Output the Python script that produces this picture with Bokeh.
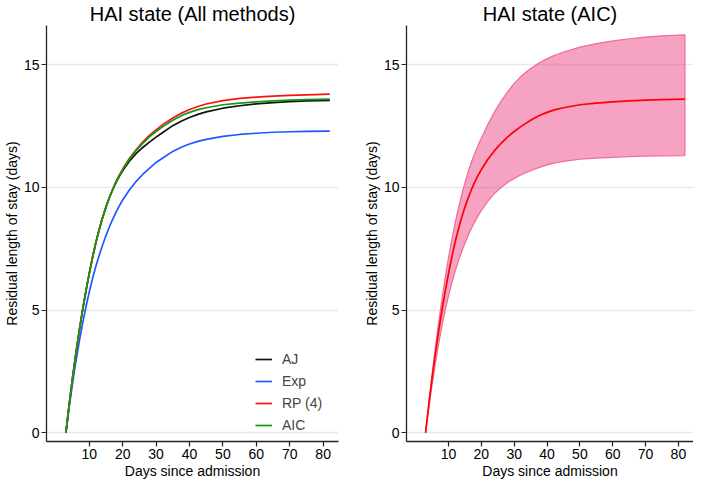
from bokeh.plotting import figure
from bokeh.models import Range1d, Legend, LegendItem
from bokeh.layouts import row
from bokeh.embed import file_html
from bokeh.resources import INLINE

# ---- data ----
days = [3, 4, 5, 6, 7, 8, 9, 10, 11, 12, 13, 14, 15, 16, 17, 18, 19, 20, 22, 24,
        26, 28, 30, 32, 35, 37.5, 40, 42.5, 45, 50, 55, 60, 65, 70, 75, 82]
aj = [0, 1.16, 2.24, 3.24, 4.16, 5.0, 5.78, 6.5, 7.16, 7.77, 8.3, 8.78, 9.2, 9.58,
      9.9, 10.2, 10.45, 10.68, 11.07, 11.38, 11.63, 11.85, 12.05, 12.24, 12.52,
      12.7, 12.85, 12.98, 13.08, 13.23, 13.33, 13.41, 13.46, 13.5, 13.53, 13.55]
exp_ = [0, 1.06, 2.03, 2.91, 3.72, 4.46, 5.13, 5.74, 6.3, 6.8, 7.25, 7.66, 8.04,
        8.39, 8.7, 8.99, 9.25, 9.49, 9.9, 10.24, 10.53, 10.78, 11.02, 11.2, 11.47,
        11.64, 11.77, 11.88, 11.96, 12.08, 12.16, 12.21, 12.25, 12.27, 12.29, 12.3]
rp4 = [0, 1.16, 2.24, 3.24, 4.16, 5.0, 5.78, 6.5, 7.16, 7.77, 8.3, 8.78, 9.2, 9.58,
       9.92, 10.23, 10.5, 10.75, 11.18, 11.54, 11.85, 12.12, 12.35, 12.56, 12.83,
       13.02, 13.18, 13.3, 13.4, 13.54, 13.63, 13.68, 13.72, 13.75, 13.77, 13.8]
aic = [0, 1.16, 2.24, 3.24, 4.16, 5.0, 5.78, 6.5, 7.16, 7.77, 8.3, 8.78, 9.2, 9.58,
       9.92, 10.23, 10.49, 10.73, 11.15, 11.5, 11.8, 12.06, 12.28, 12.48, 12.74,
       12.92, 13.06, 13.17, 13.25, 13.37, 13.44, 13.49, 13.53, 13.56, 13.58, 13.6]
aic_hi = [0, 1.22, 2.4, 3.5, 4.52, 5.47, 6.35, 7.15, 7.88, 8.55, 9.15, 9.7, 10.2,
          10.65, 11.05, 11.4, 11.72, 12.02, 12.58, 13.08, 13.52, 13.9, 14.24, 14.52,
          14.85, 15.07, 15.25, 15.4, 15.52, 15.72, 15.86, 15.97, 16.06, 16.13,
          16.18, 16.22]
aic_lo = [0, 1.0, 1.95, 2.83, 3.63, 4.35, 5.0, 5.58, 6.1, 6.57, 7.0, 7.38, 7.73,
          8.05, 8.34, 8.6, 8.84, 9.06, 9.44, 9.75, 10.0, 10.2, 10.37, 10.51, 10.68,
          10.81, 10.92, 11.0, 11.06, 11.15, 11.2, 11.23, 11.26, 11.28, 11.29, 11.3]

x_ticks = [10, 20, 30, 40, 50, 60, 70, 80]
y_ticks = [0, 5, 10, 15]
series_labels = ["AJ", "Exp", "RP (4)", "AIC"]
series_colors = ["#111111", "#2057ff", "#ff1010", "#0f9a0f"]

FONT = "Liberation Sans"


def make_fig(title, width, height, min_left, min_right):
    p = figure(width=width, height=height, output_backend="svg",
               toolbar_location=None,
               x_range=Range1d(-2.8, 84.6), y_range=Range1d(-0.35, 16.6),
               min_border_left=min_left, min_border_right=min_right,
               min_border_top=0, min_border_bottom=0)
    p.title.text = title
    p.title.align = "center"
    p.title.text_font = FONT
    p.title.text_font_size = "20px"
    p.title.text_font_style = "normal"
    p.title.text_color = "#000000"
    p.title.standoff = 1
    p.outline_line_color = None
    p.background_fill_color = "white"
    p.border_fill_color = "white"
    p.xgrid.visible = False
    p.ygrid.grid_line_color = "#e3e9ee"
    p.ygrid.grid_line_width = 1.5
    p.xaxis.ticker = x_ticks
    p.yaxis.ticker = y_ticks
    for ax in (p.xaxis[0], p.yaxis[0]):
        ax.axis_line_color = "#222222"
        ax.axis_line_width = 1.3
        ax.major_tick_line_color = "#222222"
        ax.major_tick_line_width = 1.2
        ax.major_tick_out = 5
        ax.major_tick_in = 0
        ax.minor_tick_line_color = None
        ax.major_label_text_font = FONT
        ax.major_label_text_font_size = "14px"
        ax.major_label_text_color = "#000000"
        ax.major_label_standoff = 2
        ax.axis_label_text_font = FONT
        ax.axis_label_text_font_size = "14px"
        ax.axis_label_text_font_style = "normal"
        ax.axis_label_text_color = "#000000"
        ax.axis_label_standoff = 1
    p.xaxis.axis_label = "Days since admission"
    p.yaxis.axis_label = "Residual length of stay (days)"
    return p


H = 481
p1 = make_fig("HAI state (All methods)", 346, H, 38, 8)
series = [aj, exp_, rp4, aic]
items = []
for lab, col, ys in zip(series_labels, series_colors, series):
    r = p1.line(days, ys, line_color=col, line_width=1.7)
    items.append(LegendItem(label=lab, renderers=[r]))
leg = Legend(items=items, location=(209, 7))
leg.background_fill_alpha = 0
leg.border_line_color = None
leg.label_text_font = FONT
leg.label_text_font_size = "14px"
leg.label_height = 18
leg.glyph_width = 17
leg.glyph_height = 18
leg.spacing = 4
leg.label_standoff = 10
leg.padding = 4
leg.margin = 0
p1.add_layout(leg)

p2 = make_fig("HAI state (AIC)", 347, H, 60, 0)
poly_x = days + days[::-1]
poly_y = aic_hi + aic_lo[::-1]
p2.patch(poly_x, poly_y, fill_color="#e8317a", fill_alpha=0.45,
         line_color="#ee5a8c", line_alpha=0.85, line_width=1.2)
p2.line(days, aic, line_color="#ff0000", line_width=1.7)

layout = row(p1, p2)
open("out.html", "w").write(file_html(layout, INLINE))
